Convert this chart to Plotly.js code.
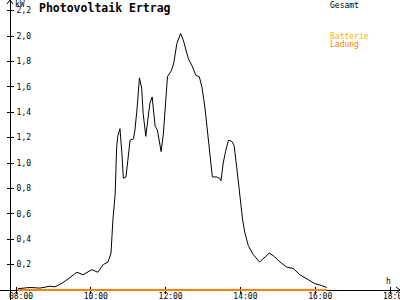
<!DOCTYPE html>
<html>
<head>
<meta charset="utf-8">
<script src="https://cdn.plot.ly/plotly-3.0.1.min.js"></script>
<style>html,body{margin:0;padding:0;background:#fff;}#chart{width:400px;height:300px;}</style>
</head>
<body>
<div id="chart"></div>
<script>
// Time of day in hours
const gesamtTime = [8.05, 8.37, 8.64, 8.91, 9.04, 9.18, 9.36, 9.63, 9.79, 10.03, 10.19, 10.33, 10.46, 10.54, 10.59, 10.65, 10.67, 10.69, 10.72, 10.78, 10.83, 10.87, 10.94, 11.05, 11.14, 11.18, 11.24, 11.30, 11.36, 11.40, 11.47, 11.54, 11.58, 11.64, 11.72, 11.78, 11.83, 11.88, 11.94, 11.98, 12.05, 12.16, 12.22, 12.30, 12.40, 12.47, 12.61, 12.70, 12.81, 12.90, 12.97, 13.05, 13.14, 13.19, 13.25, 13.37, 13.44, 13.48, 13.54, 13.61, 13.68, 13.77, 13.83, 13.90, 13.97, 13.99, 14.06, 14.12, 14.21, 14.34, 14.51, 14.66, 14.77, 14.88, 15.06, 15.24, 15.41, 15.59, 15.77, 15.99, 16.17, 16.31];
// Total output in kW
const gesamtKW = [0.01, 0.02, 0.015, 0.03, 0.025, 0.045, 0.08, 0.14, 0.12, 0.16, 0.14, 0.20, 0.22, 0.29, 0.55, 0.75, 0.93, 1.12, 1.21, 1.27, 1.08, 0.88, 0.89, 1.18, 1.19, 1.26, 1.44, 1.67, 1.59, 1.39, 1.21, 1.39, 1.47, 1.52, 1.29, 1.26, 1.18, 1.09, 1.23, 1.42, 1.68, 1.73, 1.79, 1.94, 2.02, 1.97, 1.82, 1.77, 1.69, 1.68, 1.60, 1.44, 1.21, 1.05, 0.89, 0.89, 0.88, 0.86, 1.00, 1.10, 1.18, 1.17, 1.14, 0.97, 0.79, 0.71, 0.55, 0.45, 0.35, 0.28, 0.22, 0.26, 0.29, 0.27, 0.22, 0.18, 0.17, 0.12, 0.09, 0.05, 0.035, 0.02];
// Battery charging
const ladungTime = [8.05, 16.31];
const ladungKW = [0, 0];
// Ticks
const xTickVals = [8, 10, 12, 14, 16, 18];
const xTickText = ['08:00', '10:00', '12:00', '14:00', '16:00', '18:00'];
const yTickVals = [0.2, 0.4, 0.6, 0.8, 1.0, 1.2, 1.4, 1.6, 1.8, 2.0, 2.2];
const yTickText = ['0,2', '0,4', '0,6', '0,8', '1,0', '1,2', '1,4', '1,6', '1,8', '2,0', '2,2'];

const FONT = 'DejaVu Sans Mono';
const W = 400, H = 300;
const pxX = px => px / W;
const pxY = py => 1 - py / H;
const xRange = [7.572, 18.267];
const yRange = [-10 / 127, 290 / 127];

const traces = [
  {x: gesamtTime, y: gesamtKW, mode: 'lines', line: {color: '#000000', width: 1}, name: 'Gesamt', hoverinfo: 'none'},
  {x: ladungTime, y: ladungKW, mode: 'lines', line: {color: '#FF8000', width: 2}, name: 'Batterie Ladung', hoverinfo: 'none'},
  {x: [], y: [], xaxis: 'x2', yaxis: 'y2', mode: 'lines', showlegend: false, hoverinfo: 'none'}
];

const baseX = {
  range: xRange, domain: [0, 1], anchor: 'free', position: 10 / H,
  tickvals: xTickVals, ticktext: xTickText, ticklen: 3, tickcolor: '#000', tickwidth: 1,
  showgrid: false, zeroline: false, fixedrange: true
};
const baseY = {
  range: yRange, domain: [0, 1], anchor: 'free', position: 10 / W, side: 'right',
  tickvals: yTickVals, ticktext: yTickText, ticklen: 3, tickcolor: '#000', tickwidth: 1,
  showgrid: false, zeroline: false, fixedrange: true
};

const layout = {
  width: W, height: H,
  margin: {l: 0, r: 0, t: 0, b: 0, pad: 0},
  paper_bgcolor: '#ffffff', plot_bgcolor: '#ffffff',
  showlegend: false,
  font: {family: FONT, size: 8, color: '#000'},
  xaxis: Object.assign({}, baseX, {
    showline: true, linecolor: '#000', linewidth: 1, ticks: 'inside',
    showticklabels: true, tickfont: {family: FONT, size: 8, color: '#000'},
    ticklabelshift: 5, ticklabelstandoff: -2, ticklabeloverflow: 'allow', layer: 'below traces'
  }),
  yaxis: Object.assign({}, baseY, {
    showline: true, linecolor: '#000', linewidth: 1, ticks: 'outside',
    showticklabels: true, ticklabelstandoff: 1, ticklabeloverflow: 'allow',
    tickfont: {family: FONT, size: 8, color: '#000'}, layer: 'below traces'
  }),
  xaxis2: Object.assign({}, baseX, {overlaying: 'x', ticks: 'outside', showticklabels: false, showline: false}),
  yaxis2: Object.assign({}, baseY, {overlaying: 'y', ticks: 'inside', showticklabels: false, showline: false}),
  shapes: [
    {type: 'path', xref: 'paper', yref: 'paper',
     path: `M ${pxX(7)} ${pxY(4)} L ${pxX(10)} ${pxY(0)} L ${pxX(13)} ${pxY(4)}`,
     line: {color: '#000', width: 1}},
    {type: 'path', xref: 'paper', yref: 'paper',
     path: `M ${pxX(396)} ${pxY(287)} L ${pxX(400)} ${pxY(290)} L ${pxX(396)} ${pxY(293)}`,
     line: {color: '#000', width: 1}}
  ],
  annotations: [
    {text: '<b>Photovoltaik Ertrag</b>', xref: 'paper', yref: 'paper', x: pxX(38), y: pxY(0), xanchor: 'left', yanchor: 'top', showarrow: false, font: {family: FONT, size: 11.5, color: '#000'}, borderpad: 0},
    {text: 'kW', xref: 'paper', yref: 'paper', x: pxX(14), y: pxY(-1), xanchor: 'left', yanchor: 'top', showarrow: false, font: {family: FONT, size: 8, color: '#000'}, borderpad: 0},
    {text: 'h', xref: 'paper', yref: 'paper', x: pxX(385), y: pxY(276), xanchor: 'left', yanchor: 'top', showarrow: false, font: {family: FONT, size: 8, color: '#000'}, borderpad: 0},
    {text: 'Gesamt', xref: 'paper', yref: 'paper', x: pxX(329), y: pxY(0), xanchor: 'left', yanchor: 'top', showarrow: false, font: {family: FONT, size: 8, color: '#000'}, borderpad: 0},
    {text: 'Batterie', xref: 'paper', yref: 'paper', x: pxX(329), y: pxY(31), xanchor: 'left', yanchor: 'top', showarrow: false, font: {family: FONT, size: 8, color: '#FFB000'}, borderpad: 0},
    {text: 'Ladung', xref: 'paper', yref: 'paper', x: pxX(329), y: pxY(39), xanchor: 'left', yanchor: 'top', showarrow: false, font: {family: FONT, size: 8, color: '#FF8000'}, borderpad: 0}
  ]
};

Plotly.newPlot('chart', traces, layout, {staticPlot: true, displayModeBar: false});
</script>
</body>
</html>
